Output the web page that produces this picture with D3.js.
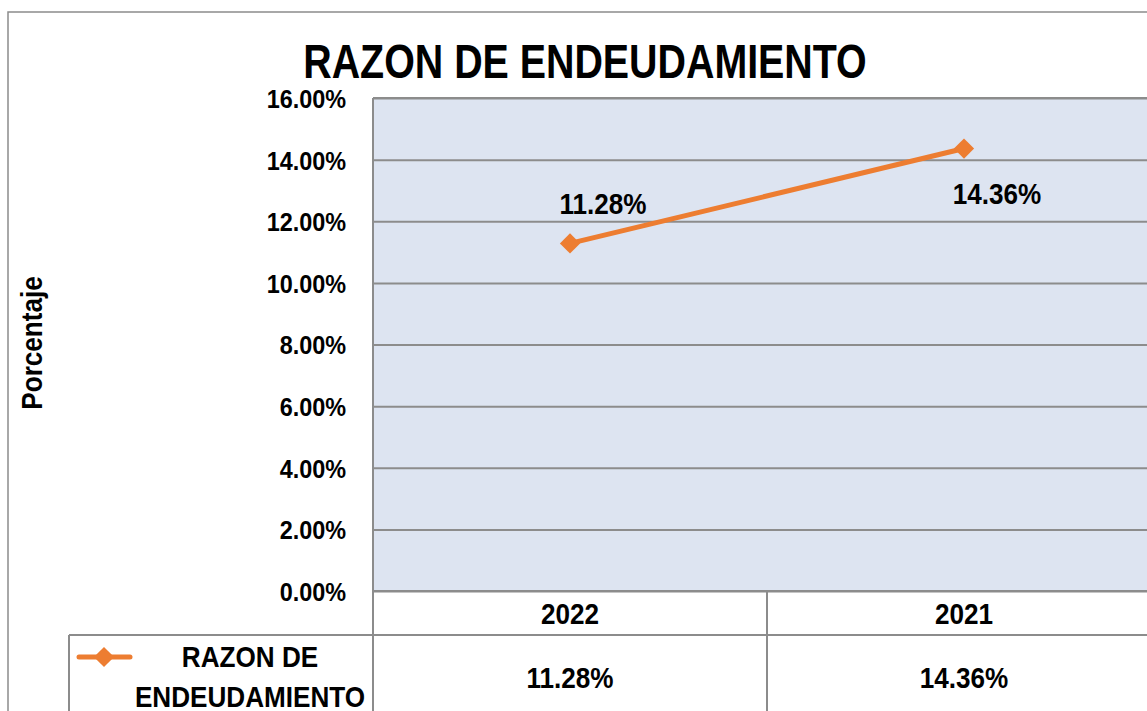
<!DOCTYPE html>
<html>
<head>
<meta charset="utf-8">
<script src="https://cdn.jsdelivr.net/npm/d3@7"></script>
<style>
  body { margin: 0; background: #fff; }
  svg text { font-family: 'Liberation Sans', Arial, sans-serif; font-weight: bold; fill: #000; }
</style>
</head>
<body>
<div id="chart"></div>
<script>
/* global d3 */

// data
var title = 'RAZON DE ENDEUDAMIENTO'
var seriesName = ['RAZON DE', 'ENDEUDAMIENTO']
var categories = ['2022', '2021']
var values = [0.1128, 0.1436]
var yTicks = [0, 0.02, 0.04, 0.06, 0.08, 0.10, 0.12, 0.14, 0.16]
var yTitle = 'Porcentaje'

var W = 1147, H = 711
var plot = {left: 373, top: 98, right: 1161, bottom: 591}
var rowH = 44
var orange = '#ed7d31', grid = '#8c8c8c'
var fmt = d3.format('.2%')

// no narrow font installed, so squeeze the glyphs to get the Arial Narrow look
function squeeze (sel, k) {
  sel.each(function () {
    var len = this.getComputedTextLength()
    d3.select(this)
      .attr('textLength', len * k)
      .attr('lengthAdjust', 'spacingAndGlyphs')
  })
}

var svg = d3.select('#chart')
  .append('svg')
  .attr('width', W)
  .attr('height', H)

// outer chart frame (runs off the page on right and bottom)
svg.append('rect')
  .attr('x', 8).attr('y', 12)
  .attr('width', W).attr('height', H)
  .attr('fill', '#fff')
  .attr('stroke', '#8c8c8c')
  .attr('stroke-width', 1.5)

var x = d3.scaleBand()
  .domain(categories)
  .range([plot.left, plot.right])

var y = d3.scaleLinear()
  .domain([0, 0.16])
  .range([plot.bottom, plot.top])

// plot background
svg.append('rect')
  .attr('x', plot.left).attr('y', plot.top)
  .attr('width', plot.right - plot.left)
  .attr('height', plot.bottom - plot.top)
  .attr('fill', '#dde4f1')

// gridlines
svg.append('g')
  .attr('transform', 'translate(' + plot.left + ',0)')
  .call(d3.axisRight(y).tickValues(yTicks).tickSize(plot.right - plot.left).tickFormat(''))
  .call(g => g.select('.domain').remove())
  .call(g => g.selectAll('line').attr('stroke', grid).attr('stroke-width', 2))

// y tick labels
svg.append('g')
  .attr('transform', 'translate(' + (plot.left - 27) + ',0)')
  .call(d3.axisLeft(y).tickValues(yTicks).tickSize(0).tickFormat(fmt))
  .call(g => g.select('.domain').remove())
  .call(g => g.selectAll('text')
    .attr('x', 0).attr('dy', '0.36em')
    .style('font-size', '26px')
    .call(squeeze, 0.9))

// y axis title
svg.append('text')
  .attr('transform', 'translate(42,343) rotate(-90)')
  .attr('text-anchor', 'middle')
  .style('font-size', '29px')
  .text(yTitle)
  .call(squeeze, 0.9)

// title
svg.append('text')
  .attr('x', 585).attr('y', 78)
  .attr('text-anchor', 'middle')
  .style('font-size', '48px')
  .text(title)
  .call(squeeze, 0.82)

// data table lines
var tbl = svg.append('g')
  .attr('stroke', grid)
  .attr('stroke-width', 2)
  .attr('fill', 'none')
tbl.append('line')
  .attr('x1', plot.left).attr('x2', plot.right)
  .attr('y1', plot.bottom).attr('y2', plot.bottom)
tbl.append('line')
  .attr('x1', 69).attr('x2', plot.right)
  .attr('y1', plot.bottom + rowH).attr('y2', plot.bottom + rowH)
tbl.append('line')
  .attr('x1', 69).attr('x2', 69)
  .attr('y1', plot.bottom + rowH).attr('y2', H)
tbl.selectAll('.vl')
  .data(categories.concat(['end']))
  .enter()
  .append('line')
  .attr('x1', (d, i) => plot.left + i * x.bandwidth())
  .attr('x2', (d, i) => plot.left + i * x.bandwidth())
  .attr('y1', (d, i) => i === 0 ? plot.top : plot.bottom)
  .attr('y2', H)
tbl.append('line')
  .attr('x1', plot.left).attr('x2', plot.right)
  .attr('y1', plot.top).attr('y2', plot.top)

// category labels
svg.append('g')
  .selectAll('text')
  .data(categories)
  .enter()
  .append('text')
  .attr('x', d => x(d) + x.bandwidth() / 2)
  .attr('y', plot.bottom + 33)
  .attr('text-anchor', 'middle')
  .style('font-size', '29px')
  .text(d => d)
  .call(squeeze, 0.9)

// values row
svg.append('g')
  .selectAll('text')
  .data(values)
  .enter()
  .append('text')
  .attr('x', (d, i) => x(categories[i]) + x.bandwidth() / 2)
  .attr('y', 688)
  .attr('text-anchor', 'middle')
  .style('font-size', '30px')
  .text(d => fmt(d))
  .call(squeeze, 0.87)

// legend key
var diamond = d3.symbol().type(d3.symbolDiamond2).size(260)
svg.append('line')
  .attr('x1', 79).attr('x2', 130)
  .attr('y1', 657).attr('y2', 657)
  .attr('stroke', orange)
  .attr('stroke-width', 5)
  .attr('stroke-linecap', 'round')
svg.append('path')
  .attr('d', diamond)
  .attr('transform', 'translate(104,657)')
  .attr('fill', orange)
svg.append('g')
  .selectAll('text')
  .data(seriesName)
  .enter()
  .append('text')
  .attr('x', 250)
  .attr('y', (d, i) => 667 + i * 40)
  .attr('text-anchor', 'middle')
  .style('font-size', '30px')
  .text(d => d)
  .call(squeeze, 0.87)

// series line
var line = d3.line()
  .x((d, i) => x(categories[i]) + x.bandwidth() / 2)
  .y(d => y(d))
svg.append('path')
  .datum(values)
  .attr('d', line)
  .attr('fill', 'none')
  .attr('stroke', orange)
  .attr('stroke-width', 5)

svg.append('g')
  .selectAll('path')
  .data(values)
  .enter()
  .append('path')
  .attr('d', diamond)
  .attr('transform', (d, i) => 'translate(' + (x(categories[i]) + x.bandwidth() / 2) + ',' + y(d) + ')')
  .attr('fill', orange)

// data labels (first above the point, second below)
var labelDy = [-29, 55]
svg.append('g')
  .selectAll('text')
  .data(values)
  .enter()
  .append('text')
  .attr('x', (d, i) => x(categories[i]) + x.bandwidth() / 2 + 33)
  .attr('y', (d, i) => y(d) + labelDy[i])
  .attr('text-anchor', 'middle')
  .style('font-size', '29px')
  .text(d => fmt(d))
  .call(squeeze, 0.9)
</script>
</body>
</html>
